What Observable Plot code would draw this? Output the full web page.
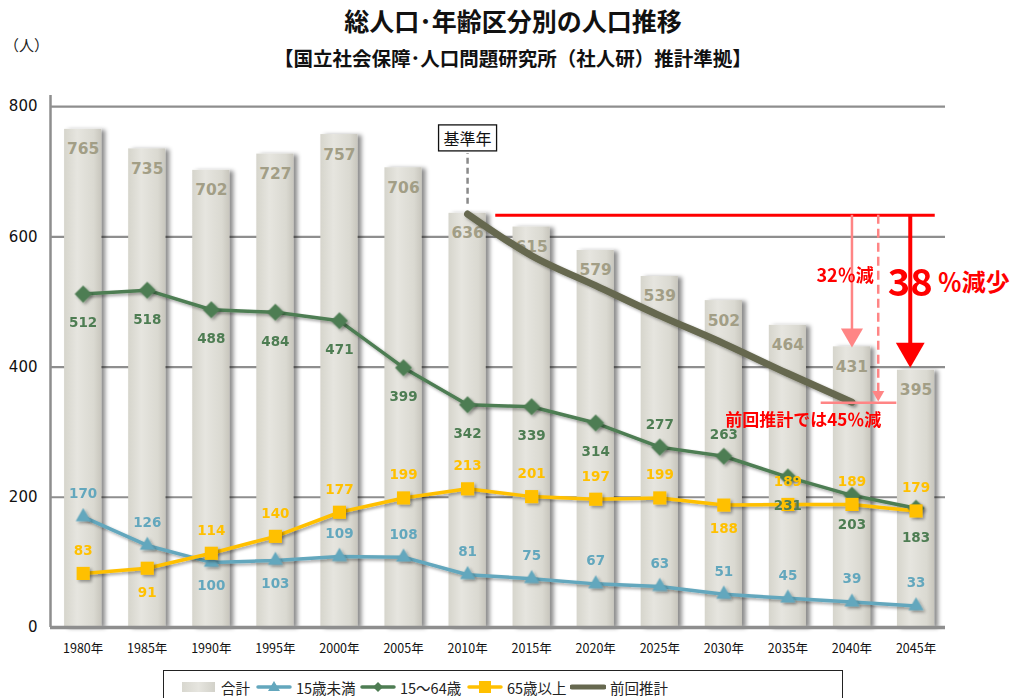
<!DOCTYPE html>
<html><head><meta charset="utf-8">
<script src="https://cdn.jsdelivr.net/npm/d3@7"></script>
<script src="https://cdn.jsdelivr.net/npm/@observablehq/plot@0.6"></script>
<style>
body{margin:0;background:#fff;}
#wrap{position:relative;width:1014px;height:698px;overflow:hidden;font-family:"Noto Sans CJK JP",sans-serif;}
#title{position:absolute;top:3px;left:0;width:1026px;text-align:center;font-size:25px;font-weight:bold;color:#111;line-height:34px;}
#subtitle{position:absolute;top:45px;left:0;width:1026px;text-align:center;font-size:19.5px;font-weight:bold;color:#111;line-height:26px;}
#unit{position:absolute;top:34px;left:4px;font-size:15px;color:#222;}
#chart{position:absolute;top:70px;left:0;}
#legend{position:absolute;top:670px;left:163px;width:680px;height:40px;border:1px solid #222;box-sizing:border-box;font-size:14.5px;color:#222;}
.li{position:absolute;top:5px;height:22px;display:flex;align-items:center;}
.li svg{margin-right:4px;}
</style></head>
<body><div id="wrap">
<div id="title">総人口･年齢区分別の人口推移</div>
<div id="subtitle">【国立社会保障･人口問題研究所（社人研）推計準拠】</div>
<div id="unit">（人）</div>
<div id="chart"></div>
<div id="legend"></div>
</div>
<script>
// ---- data ----
const years   = [1980,1985,1990,1995,2000,2005,2010,2015,2020,2025,2030,2035,2040,2045];
const total   = [765,735,702,727,757,706,636,615,579,539,502,464,431,395];
const under15 = [170,126,100,103,109,108,81,75,67,63,51,45,39,33];
const age1564 = [512,518,488,484,471,399,342,339,314,277,263,231,203,183];
const over65  = [83,91,114,140,177,199,213,201,197,199,188,189,189,179];
const prevYears = [2010,2015,2020,2025,2030,2035,2040];
const prevEst   = [635,571,525,479,436,390,346];
const yTicks = [0,200,400,600,800];
const seriesNames = ["合計","15歳未満","15～64歳","65歳以上","前回推計"];

// label placement: 1 = below point, -1 = above
const placeU15 = [-1,-1,1,1,-1,-1,-1,-1,-1,-1,-1,-1,-1,-1];
const place1564 = [1,1,1,1,1,1,1,1,1,-1,-1,1,1,1];
const place65 = [-1,1,-1,-1,-1,-1,-1,-1,-1,-1,1,-1,-1,-1];

const rows = years.map((y,i)=>({year:y,total:total[i],u15:under15[i],a1564:age1564[i],o65:over65[i],i}));
const prevRows = prevYears.map((y,i)=>({year:y,v:prevEst[i]}));

const C = {bar:"#dcdbd3", tot:"#a29e86", blue:"#63a7bd", green:"#4e7d53", yellow:"#ffc000", prev:"#66684f", red:"#ff0000", pink:"#ff8585", grid:"#8e8e8e"};
const HALF = 1.45;
const xDom = [1977.45, 2047.3];
const base = 633;

const num = {fontFamily:"DejaVu Sans, Verdana, sans-serif", fontWeight:"bold", fontSize:13.5};

function labels(key, place, color, upDy, downDy){
  return [
    Plot.text(rows,{filter:d=>place[d.i]<0,x:"year",y:key,text:d=>String(d[key]),dy:upDy,fill:color,...num}),
    Plot.text(rows,{filter:d=>place[d.i]>0,x:"year",y:key,text:d=>String(d[key]),dy:downDy,fill:color,...num})
  ];
}

const chart = Plot.plot({
  width:1014, height:598,
  marginLeft:50, marginRight:1014-945, marginTop:25, marginBottom:41,
  x:{domain:xDom},
  y:{domain:[0,817]},
  style:{background:"transparent", overflow:"visible"},
  marks:[
    Plot.ruleY([200,400,600,800],{stroke:C.grid,strokeWidth:2.2}),
    Plot.rectY(rows,{x1:d=>d.year-HALF,x2:d=>d.year+HALF,y:"total",fill:"url(#barGrad)",ariaDescription:"bars"}),
    Plot.ruleY([0],{stroke:C.grid,strokeWidth:3.5}),
    Plot.ruleX([xDom[0]],{y1:0,y2:817,stroke:C.grid,strokeWidth:2.5}),
    Plot.axisY({ticks:yTicks,tickSize:0,tickPadding:13,fontSize:15,fontFamily:"DejaVu Sans, Verdana, sans-serif",fill:"#111",label:null}),
    Plot.axisX({ticks:years,tickSize:0,tickPadding:17,tickFormat:d=>d+"年",fontSize:12.5,fontFamily:"Noto Sans CJK JP",fill:"#111",label:null}),
    Plot.text(rows,{x:"year",y:"total",text:d=>String(d.total),dy:20,fill:C.tot,fontFamily:"DejaVu Sans, Verdana, sans-serif",fontWeight:"bold",fontSize:15.5}),
    // previous estimate
    Plot.line(prevRows,{x:"year",y:"v",stroke:C.prev,strokeWidth:7,strokeLinecap:"round",curve:"monotone-x",ariaDescription:"shadow"}),
    // series lines
    Plot.line(rows,{x:"year",y:"u15",stroke:C.blue,strokeWidth:3.5,ariaDescription:"shadow"}),
    Plot.line(rows,{x:"year",y:"a1564",stroke:C.green,strokeWidth:3.5,ariaDescription:"shadow"}),
    Plot.line(rows,{x:"year",y:"o65",stroke:C.yellow,strokeWidth:3.5,ariaDescription:"shadow"}),
    Plot.dot(rows,{x:"year",y:"u15",symbol:"triangle",r:5.6,fill:C.blue,ariaDescription:"shadow"}),
    Plot.dot(rows,{x:"year",y:"a1564",symbol:"square",rotate:45,r:6.8,fill:C.green,ariaDescription:"shadow"}),
    Plot.dot(rows,{x:"year",y:"o65",symbol:"square",r:7.4,fill:C.yellow,ariaDescription:"shadow"}),
    ...labels("u15", placeU15, C.blue, -23, 23),
    ...labels("a1564", place1564, C.green, -22, 29),
    ...labels("o65", place65, C.yellow, -23, 24),
    // annotations
    Plot.ruleX([2010],{y1:650,y2:728,stroke:"#8a8a8a",strokeWidth:2.5,strokeDasharray:"6,4"}),
    Plot.text([{x:2010,y:749}],{x:"x",y:"y",text:["基準年"],fontSize:16,fontFamily:"Noto Sans CJK JP",fill:"#111",ariaDescription:"boxed"}),
    Plot.ruleY([base],{x1:2012.2,x2:2046.5,stroke:C.red,strokeWidth:3}),
    Plot.ruleX([2040],{y1:base,y2:445,stroke:C.pink,strokeWidth:2.5}),
    Plot.dot([{x:2040,y:430}],{x:"x",y:"y",symbol:"triangle",rotate:180,r:8.2,dy:-12.7,fill:C.pink}),
    Plot.ruleX([2042.05],{y1:base,y2:355,stroke:C.pink,strokeWidth:2.5,strokeDasharray:"9,5"}),
    Plot.dot([{x:2042.05,y:347}],{x:"x",y:"y",symbol:"triangle",rotate:180,r:4.5,dy:-7,fill:C.pink}),
    Plot.ruleY([345],{x1:2037.6,x2:2043.5,stroke:C.pink,strokeWidth:2.5}),
    Plot.ruleX([2044.55],{y1:base,y2:420,stroke:C.red,strokeWidth:4}),
    Plot.dot([{x:2044.55,y:399}],{x:"x",y:"y",symbol:"triangle",rotate:180,r:10.7,dy:-16.7,fill:C.red}),
    Plot.text([{x:2041.7,y:540}],{x:"x",y:"y",text:["32％減"],textAnchor:"end",fontSize:18,fontWeight:"bold",fontFamily:"Noto Sans CJK JP",fill:C.red}),
    Plot.text([{x:2042.8,y:528}],{x:"x",y:"y",text:["38"],textAnchor:"start",fontSize:38,fontWeight:"bold",fontFamily:"Noto Sans CJK JP",fill:C.red}),
    Plot.text([{x:2046.7,y:528}],{x:"x",y:"y",text:["％減少"],textAnchor:"start",fontSize:24,fontWeight:"bold",fontFamily:"Noto Sans CJK JP",fill:C.red}),
    Plot.text([{x:2036.2,y:318}],{x:"x",y:"y",text:["前回推計では45％減"],fontSize:17,fontWeight:"bold",fontFamily:"Noto Sans CJK JP",fill:C.red})
  ]
});
document.getElementById("chart").appendChild(chart);

// defs: gradient & shadows
const svg = d3.select(chart);
const defs = svg.insert("defs",":first-child");
const g = defs.append("linearGradient").attr("id","barGrad").attr("x1","0").attr("x2","1").attr("y1","0").attr("y2","0");
g.append("stop").attr("offset","0%").attr("stop-color","#d6d5cc");
g.append("stop").attr("offset","35%").attr("stop-color","#e6e5df");
g.append("stop").attr("offset","80%").attr("stop-color","#dad9d1");
g.append("stop").attr("offset","100%").attr("stop-color","#c8c6bd");
const f1 = defs.append("filter").attr("id","barShadow").attr("x","-20%").attr("y","-10%").attr("width","150%").attr("height","120%");
f1.append("feDropShadow").attr("dx",4).attr("dy",1).attr("stdDeviation",2.2).attr("flood-color","#000").attr("flood-opacity",0.45);
const f2 = defs.append("filter").attr("id","lineShadow").attr("x","-10%").attr("y","-10%").attr("width","130%").attr("height","130%");
f2.append("feDropShadow").attr("dx",2).attr("dy",2).attr("stdDeviation",1.5).attr("flood-color","#000").attr("flood-opacity",0.35);
svg.selectAll('g[aria-description="bars"]').attr("filter","url(#barShadow)");
svg.selectAll('g[aria-description="shadow"]').attr("filter","url(#lineShadow)");
// box around 基準年
svg.selectAll('g[aria-description="boxed"] text').each(function(){
  const b = this.getBBox();
  const t = this.getAttribute("transform");
  const r = d3.select(this.parentNode).insert("rect","text").attr("x",b.x-5).attr("y",b.y-1).attr("width",b.width+10).attr("height",b.height+2)
    .attr("fill","#fff").attr("stroke","#111").attr("stroke-width",1.3);
  if (t) r.attr("transform", t);
  if (this.getAttribute("x")) { r.attr("x", b.x-5); }
});

// legend
const legendItems = [
  {name:seriesNames[0], kind:"bar", left:17},
  {name:seriesNames[1], kind:"line", color:C.blue, sym:"tri", left:92},
  {name:seriesNames[2], kind:"line", color:C.green, sym:"dia", left:196},
  {name:seriesNames[3], kind:"line", color:C.yellow, sym:"sq", left:303},
  {name:seriesNames[4], kind:"line", color:C.prev, sym:null, wide:true, left:406}
];
const leg = d3.select("#legend");
legendItems.forEach(it=>{
  const d = leg.append("div").attr("class","li").style("left",it.left+"px");
  const s = d.append("svg").attr("width",36).attr("height",16);
  if(it.kind==="bar"){
    const lg = s.append("defs").append("linearGradient").attr("id","legGrad");
    lg.append("stop").attr("offset","0%").attr("stop-color","#d8d7cf");
    lg.append("stop").attr("offset","50%").attr("stop-color","#e6e5df");
    lg.append("stop").attr("offset","100%").attr("stop-color","#d2d1c9");
    s.append("rect").attr("x",1).attr("y",3).attr("width",33).attr("height",10).attr("fill","url(#legGrad)");
  } else {
    s.append("line").attr("x1",2).attr("x2",34).attr("y1",8).attr("y2",8).attr("stroke",it.color).attr("stroke-width",it.wide?5:3.5).attr("stroke-linecap","round");
    if(it.sym==="tri") s.append("path").attr("d","M18,2 L24,12 L12,12 Z").attr("fill",it.color);
    if(it.sym==="dia") s.append("path").attr("d","M18,3 L23,8 L18,13 L13,8 Z").attr("fill",it.color);
    if(it.sym==="sq") s.append("rect").attr("x",12).attr("y",2).attr("width",12).attr("height",12).attr("fill",it.color);
  }
  d.append("span").text(it.name);
});
</script>
</body></html>
